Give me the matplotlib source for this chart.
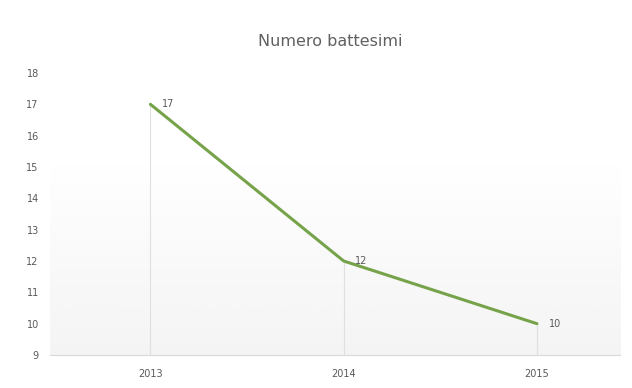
import numpy as np
import matplotlib.pyplot as plt

anni = ['2013', '2014', '2015']
battesimi = [17, 12, 10]

plt.rcParams['font.family'] = ['DejaVu Sans']

fig = plt.figure(figsize=(6.32, 3.88), dpi=100)
ax = fig.add_axes([0.079, 0.085, 0.902, 0.727])

xi = np.arange(len(anni))

# sfondo sfumato come nel grafico excel
grad = np.linspace(0, 1, 256).reshape(-1, 1)
grad = np.clip((grad - 0.3) / 0.7, 0, 1)
ax.imshow(grad, extent=[-0.52, 2.43, 9, 18], aspect='auto', cmap='Greys',
          vmin=0, vmax=11, origin='upper', zorder=0)

# drop lines
for x, y in zip(xi, battesimi):
    ax.plot([x, x], [9, y], color='#e0e0e0', linewidth=0.8, zorder=1)

ax.plot(xi, battesimi, color='#76a34a', linewidth=2.2, zorder=3,
        solid_capstyle='round')

for x, y in zip(xi, battesimi):
    ax.text(x + 0.06, y, str(y), fontsize=7, color='#595959', va='center', ha='left')

ax.set_xlim(-0.52, 2.43)
ax.set_ylim(9, 18)
ax.set_xticks(xi)
ax.set_xticklabels(anni)
ax.set_yticks(np.arange(9, 19, 1))
ax.tick_params(axis='both', length=0, labelsize=7, colors='#595959')
ax.tick_params(axis='y', pad=8)
ax.tick_params(axis='x', pad=10)

for s in ['top', 'right', 'left']:
    ax.spines[s].set_visible(False)
ax.spines['bottom'].set_color('#d9d9d9')

fig.text(0.522, 0.893, 'Numero battesimi', ha='center', va='center',
         fontsize=11.5, color='#606060')

fig.savefig('out.png', dpi=100)
